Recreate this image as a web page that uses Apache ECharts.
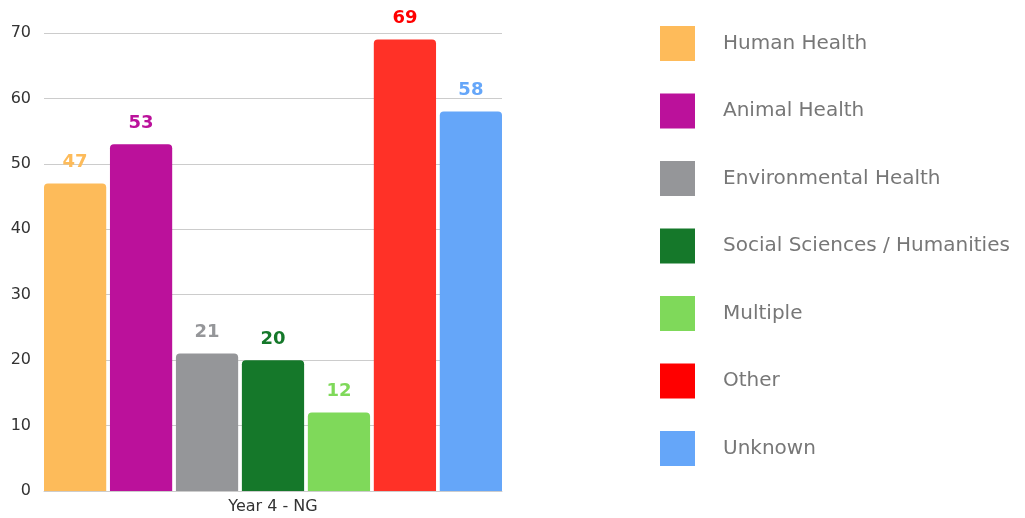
<!DOCTYPE html>
<html>
<head>
<meta charset="utf-8">
<script src="https://cdn.jsdelivr.net/npm/echarts@6/dist/echarts.min.js"></script>
<style>
  html, body { margin: 0; padding: 0; background: #fff; }
  #main { width: 1025px; height: 518px; }
</style>
</head>
<body>
<div id="main"></div>
<script>
var categories = ['Year 4 - NG'];
var seriesNames = ['Human Health', 'Animal Health', 'Environmental Health',
  'Social Sciences / Humanities', 'Multiple', 'Other', 'Unknown'];
var seriesValues = [47, 53, 21, 20, 12, 69, 58];
var barColors = ['#fdbb5a', '#bb119b', '#959699', '#15782a', '#7fd95a', '#ff3127', '#65a6f9'];
var labelColors = ['#fdbb5a', '#bb119b', '#959699', '#15782a', '#7fd95a', '#ff0000', '#65a6f9'];
var legendColors = ['#febb5a', '#bb119b', '#959699', '#15782a', '#7fd95a', '#ff0000', '#65a6f9'];
var yTicks = { min: 0, max: 70, interval: 10 };

var font = 'DejaVu Sans';
var chart = echarts.init(document.getElementById('main'));

var series = seriesNames.map(function(name, i) {
  return {
    name: name,
    type: 'bar',
    data: [seriesValues[i]],
    barGap: '6%',
    barCategoryGap: '0%',
    itemStyle: { color: barColors[i], borderRadius: [4, 4, 0, 0] },
    label: {
      show: true,
      position: 'top',
      distance: 12,
      color: labelColors[i],
      fontFamily: font,
      fontWeight: 'bold',
      fontSize: 18
    }
  };
});

chart.setOption({
  animation: false,
  grid: { left: 44, right: 523, top: 33, bottom: 27 },
  legend: {
    orient: 'vertical',
    left: 655,
    top: 21,
    icon: 'rect',
    itemWidth: 35,
    itemHeight: 35,
    itemGap: 32.5,
    selectedMode: false,
    textStyle: { color: '#777', fontSize: 20, fontFamily: font, padding: [0, 0, 0, 23] },
    data: seriesNames.map(function(name, i) {
      return { name: name, itemStyle: { color: legendColors[i] } };
    })
  },
  xAxis: {
    type: 'category',
    data: categories,
    axisLine: { lineStyle: { color: '#ccc' } },
    axisTick: { show: false },
    axisLabel: { color: '#333', fontSize: 16, fontFamily: font, margin: 8 }
  },
  yAxis: {
    type: 'value',
    min: yTicks.min,
    max: yTicks.max,
    interval: yTicks.interval,
    axisLine: { show: false },
    axisTick: { show: false },
    axisLabel: { color: '#333', fontSize: 16, fontFamily: font, margin: 13 },
    splitLine: { lineStyle: { color: '#ccc' } }
  },
  series: series
});
</script>
</body>
</html>
